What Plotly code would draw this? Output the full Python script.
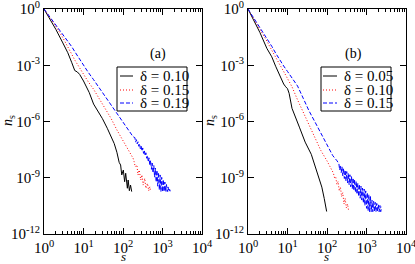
import plotly.graph_objects as go

# ---------------- data (s = cluster size, log10 of n_s) ----------------
# panel (a)
a_s_010 = [1, 2, 3, 4, 5, 6, 7, 8, 10, 12, 14, 18, 22, 30, 40, 50, 60, 70, 80,
           87, 93, 102, 110, 117, 129, 135, 145, 155, 166]
a_lg_010 = [0, -1.09, -1.81, -2.33, -2.84, -3.28, -3.36, -3.49, -3.84, -4.16, -4.46, -5.07, -5.35,
            -5.84, -6.36, -6.77, -7.18, -7.64, -8.18,
            -8.32, -8.85, -8.59, -9.21, -8.76, -9.56, -9.12, -9.69, -9.39, -9.74]

a_s_015 = [1, 2, 3, 4, 5, 6, 7, 8, 10, 13, 18, 25, 35, 50, 70, 100, 140, 180,
           191, 204, 224, 240, 257, 282, 302, 324, 355, 380, 417, 447, 479, 501]
a_lg_015 = [0, -0.92, -1.53, -1.99, -2.40, -2.72, -2.95, -3.14, -3.50, -3.86, -4.28, -4.78, -5.26,
            -5.84, -6.45, -7.00, -7.55, -7.96,
            -8.14, -8.41, -8.32, -8.85, -8.59, -9.12, -8.85, -9.39, -9.03, -9.56, -9.30, -9.69, -9.48, -9.74]

a_s_019 = [1, 2, 3, 4, 5, 6, 7, 8, 10, 13, 18, 25, 35, 50, 70, 100, 140, 180,
           200, 209, 219, 229, 240, 251, 263, 275, 288, 302, 316, 331, 347, 363, 380, 398,
           417, 437, 457, 479, 501, 525, 550, 575, 603, 631, 661, 692, 724, 759, 794, 832,
           871, 912, 955, 1000, 1047, 1096, 1148, 1202, 1259, 1318, 1380, 1445, 1514, 1585]
a_lg_019 = [0, -0.85, -1.36, -1.72, -2.00, -2.27, -2.50, -2.70, -3.00, -3.36, -3.77, -4.20, -4.65,
            -5.10, -5.55, -6.00, -6.45, -6.81,
            -6.86, -7.10, -6.97, -7.19, -7.08, -7.32, -7.19, -7.45, -7.31, -7.58, -7.41, -7.70,
            -7.53, -7.83, -7.67, -7.96, -7.81, -8.16, -7.94, -8.35, -8.08, -8.55, -8.22, -8.74,
            -8.35, -8.97, -8.48, -9.23, -8.60, -9.45, -8.72, -9.65, -8.85, -9.74, -8.98, -9.74,
            -9.10, -9.74, -9.23, -9.74, -9.36, -9.74, -9.49, -9.74, -9.62, -9.74]

# panel (b)
b_s_005 = [1, 2, 3, 4, 5, 6, 7, 8, 9, 10, 11, 13, 20, 28, 40, 50, 60, 74, 85, 93, 98]
b_lg_005 = [0, -1.25, -2.10, -2.55, -3.05, -3.45, -3.80, -4.00, -4.15, -4.25, -4.50, -5.30,
            -6.30, -7.10, -7.75, -8.40, -8.90, -9.50, -10.10, -10.55, -10.80]

b_s_010 = [1, 2, 3, 4, 5, 6, 7, 8, 10, 13, 18, 25, 35, 50, 70, 100, 130,
           145, 155, 166, 178, 191, 204, 219, 234, 251, 269, 288, 309, 331, 355]
b_lg_010 = [0, -1.05, -1.71, -2.20, -2.60, -2.90, -3.12, -3.33, -3.70, -4.15, -4.85, -5.50,
            -6.20, -6.95, -7.55, -8.10, -8.60,
            -8.75, -9.00, -8.95, -9.35, -9.20, -9.70, -9.50, -10.00, -9.80, -10.40, -10.10,
            -10.60, -10.40, -10.80]

b_s_015 = [1, 2, 3, 4, 5, 6, 7, 8, 10, 13, 18, 25, 35, 50, 70, 100, 140, 180,
           200, 209, 219, 229, 240, 251, 263, 275, 288, 302, 316, 331, 347, 363, 380, 398,
           417, 437, 457, 479, 501, 525, 550, 575, 603, 631, 661, 692, 724, 759, 794, 832,
           871, 912, 955, 1000, 1047, 1096, 1148, 1202, 1259, 1318, 1380, 1445, 1514, 1585,
           1660, 1738, 1820, 1905, 1995, 2089, 2188, 2291, 2399]
b_lg_015 = [0, -0.97, -1.54, -1.99, -2.35, -2.64, -2.86, -3.04, -3.33, -3.67, -4.11, -4.76,
            -5.43, -6.04, -6.62, -7.24, -7.82, -8.10,
            -8.25, -8.58, -8.33, -8.73, -8.42, -8.89, -8.50, -9.04, -8.59, -9.17, -8.67, -9.27,
            -8.76, -9.37, -8.84, -9.48, -8.93, -9.58, -9.01, -9.68, -9.10, -9.78, -9.20, -9.88,
            -9.30, -9.99, -9.35, -10.09, -9.45, -10.19, -9.55, -10.34, -9.60, -10.48, -9.70,
            -10.63, -9.80, -10.77, -9.90, -10.81, -10.00, -10.81, -10.20, -10.81, -10.26, -10.81,
            -10.31, -10.81, -10.37, -10.81, -10.43, -10.81, -10.48, -10.81, -10.55]

legend_a = ["δ = 0.10", "δ = 0.15", "δ = 0.19"]
legend_b = ["δ = 0.05", "δ = 0.10", "δ = 0.15"]
panel_labels = ["(a)", "(b)"]

x_tickvals = [1, 10, 100, 1000, 10000]
x_ticktext = ["10<sup>0</sup>", "10<sup>1</sup>", "10<sup>2</sup>", "10<sup>3</sup>", "10<sup>4</sup>"]
y_tickvals = [1, 1e-3, 1e-6, 1e-9, 1e-12]
y_ticktext = ["10<sup>0</sup>", "10<sup>-3</sup>", "10<sup>-6</sup>", "10<sup>-9</sup>", "10<sup>-12</sup>"]

# ---------------- figure ----------------
FONT = "Liberation Serif, Times New Roman, serif"
styles = [dict(color="black", width=1, dash="solid"),
          dict(color="red", width=1, dash="1px,2px"),
          dict(color="blue", width=1, dash="4px,2px")]

W, H = 415, 264
ytop, ybot = 9, 234
dom_y = [1 - ybot / H, 1 - ytop / H]
dom_a = [44 / W, 202 / W]
dom_b = [248 / W, 406 / W]

fig = go.Figure()


def to_n(lg):
    return [10 ** v for v in lg]


series_a = [(a_s_010, a_lg_010), (a_s_015, a_lg_015), (a_s_019, a_lg_019)]
series_b = [(b_s_005, b_lg_005), (b_s_010, b_lg_010), (b_s_015, b_lg_015)]

for (s, lg), name, st in zip(series_a, legend_a, styles):
    fig.add_trace(go.Scatter(x=s, y=to_n(lg), mode="lines", name=name, line=st,
                             xaxis="x", yaxis="y", showlegend=False))
for (s, lg), name, st in zip(series_b, legend_b, styles):
    fig.add_trace(go.Scatter(x=s, y=to_n(lg), mode="lines", name=name, line=st,
                             xaxis="x2", yaxis="y2", showlegend=False))

minor_x = [m * 10 ** k for k in range(4) for m in range(2, 10)]


def xaxis(dom, anchor):
    return dict(type="log", range=[0, 4], domain=dom, anchor=anchor, automargin=False,
                tickvals=x_tickvals, ticktext=x_ticktext, ticks="inside", ticklen=6,
                tickcolor="black", tickwidth=1, ticklabeloverflow="allow",
                minor=dict(tickvals=minor_x, ticks="inside", ticklen=3, tickcolor="black", tickwidth=1),
                showline=True, linecolor="black", linewidth=1, mirror="ticks",
                showgrid=False, zeroline=False,
                tickfont=dict(family=FONT, size=15, color="black"))


def yaxis(dom, anchor):
    return dict(type="log", range=[-12, 0], domain=dom, anchor=anchor, automargin=False,
                tickvals=y_tickvals, ticktext=y_ticktext, ticks="inside", ticklen=6,
                tickcolor="black", tickwidth=1, ticklabeloverflow="allow",
                showline=True, linecolor="black", linewidth=1, mirror="ticks",
                showgrid=False, zeroline=False,
                tickfont=dict(family=FONT, size=15, color="black"))


shapes = []
annotations = []


def P(x, y):
    return x / W, 1 - y / H


# manual legend boxes (a) and (b)
legend_boxes = [dict(x0=117, x1=187, y0=67, y1=111, lx0=120, lx1=133, tx=138, names=legend_a),
                dict(x0=321, x1=391, y0=67, y1=111, lx0=323, lx1=337, tx=342, names=legend_b)]
row_y = [76, 90, 103]
for box in legend_boxes:
    x0, y1 = P(box["x0"], box["y0"])
    x1, y0 = P(box["x1"], box["y1"])
    shapes.append(dict(type="rect", xref="paper", yref="paper", x0=x0, x1=x1, y0=y0, y1=y1,
                       line=dict(color="black", width=1), fillcolor="white", layer="above"))
    for ry, name, st in zip(row_y, box["names"], styles):
        lx0, ly = P(box["lx0"], ry)
        lx1, _ = P(box["lx1"], ry)
        shapes.append(dict(type="line", xref="paper", yref="paper", x0=lx0, x1=lx1, y0=ly, y1=ly,
                           line=dict(color=st["color"], width=1, dash=st["dash"]), layer="above"))
        tx, ty = P(box["tx"], ry)
        annotations.append(dict(text=name, xref="paper", yref="paper", x=tx, y=ty,
                                xanchor="left", yanchor="middle", showarrow=False,
                                font=dict(family=FONT, size=15, color="black")))

# panel labels
for lab, px in zip(panel_labels, [158, 364]):
    x, y = P(px, 44)
    annotations.append(dict(text=lab, xref="paper", yref="paper", x=x, y=y, showarrow=False,
                            font=dict(family=FONT, size=14, color="black")))

# axis titles
for px in [123, 326]:
    x, y = P(px, 256)
    annotations.append(dict(text="<i>s</i>", xref="paper", yref="paper", x=x, y=y, showarrow=False,
                            xanchor="center", yanchor="middle",
                            font=dict(family=FONT, size=13, color="black")))
for px in [9, 211]:
    x, y = P(px, 121)
    annotations.append(dict(text="<i>n</i><sub>s</sub>", xref="paper", yref="paper", x=x, y=y,
                            showarrow=False, textangle=-90, xanchor="center", yanchor="middle",
                            font=dict(family=FONT, size=14, color="black")))

fig.update_layout(
    width=W, height=H,
    margin=dict(l=0, r=0, t=0, b=0),
    paper_bgcolor="white", plot_bgcolor="white",
    xaxis=xaxis(dom_a, "y"), yaxis=yaxis(dom_y, "x"),
    xaxis2=xaxis(dom_b, "y2"), yaxis2=yaxis(dom_y, "x2"),
    showlegend=False,
    shapes=shapes,
    annotations=annotations,
)

fig.write_html("out.html", config={"displayModeBar": False},
               post_script="document.body.style.margin='0';")
